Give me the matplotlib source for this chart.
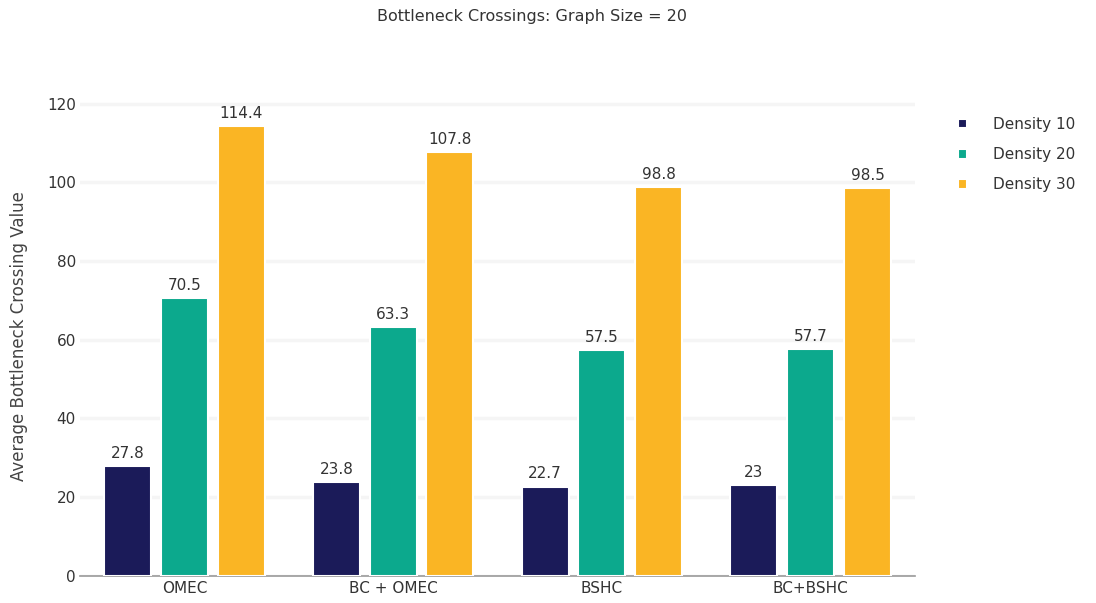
import matplotlib
matplotlib.use('Agg')
import matplotlib.pyplot as plt
import numpy as np

plt.rcParams['font.family'] = ['DejaVu Sans']

methods = ['OMEC', 'BC + OMEC', 'BSHC', 'BC+BSHC']
series_names = ['Density 10', 'Density 20', 'Density 30']
density_10 = [27.8, 23.8, 22.7, 23]
density_20 = [70.5, 63.3, 57.5, 57.7]
density_30 = [114.4, 107.8, 98.8, 98.5]
colors = ['#1b1b59', '#0ca98d', '#fab524']

fig = plt.figure(figsize=(10.96, 6.03), dpi=100)
ax = fig.add_axes([0.073, 0.045, 0.762, 0.796])

x = np.arange(len(methods))
width = 0.225
offset = 0.272
for i, (vals, name, col) in enumerate(zip([density_10, density_20, density_30], series_names, colors)):
    pos = x + (i - 1) * offset
    bars = ax.bar(pos, vals, width, color=col, edgecolor='white', linewidth=1.5,
                  label=name, zorder=3)
    for b, v in zip(bars, vals):
        ax.text(b.get_x() + b.get_width() / 2, v + 1.3, f'{v:g}', ha='center', va='bottom',
                fontsize=11, color='#333333', zorder=4)

ax.set_xlim(-0.5, 3.5)
ax.set_ylim(0, 122)
ax.set_yticks([0, 20, 40, 60, 80, 100, 120])
ax.set_xticks(x)
ax.set_xticklabels(methods)
ax.tick_params(axis='both', length=0, labelsize=11, colors='#333333')
ax.tick_params(axis='x', pad=4)
ax.tick_params(axis='y', pad=3)
ax.yaxis.grid(True, color='#f5f5f5', linewidth=2.5, zorder=0)
ax.set_axisbelow(True)
for s in ['top', 'right', 'left']:
    ax.spines[s].set_visible(False)
ax.spines['bottom'].set_color('#999999')
ax.spines['bottom'].set_linewidth(1.2)

ax.set_ylabel('Average Bottleneck Crossing Value', fontsize=12, color='#444444', labelpad=14)
fig.suptitle('Bottleneck Crossings: Graph Size = 20', fontsize=11.5, color='#333333',
             x=0.485, y=0.985)

leg = ax.legend(loc='upper left', bbox_to_anchor=(1.035, 0.985), frameon=False, fontsize=11,
                handlelength=0.6, handleheight=0.6, handletextpad=1.7, labelspacing=1.0,
                labelcolor='#333333')

fig.savefig('out.png', dpi=100)
